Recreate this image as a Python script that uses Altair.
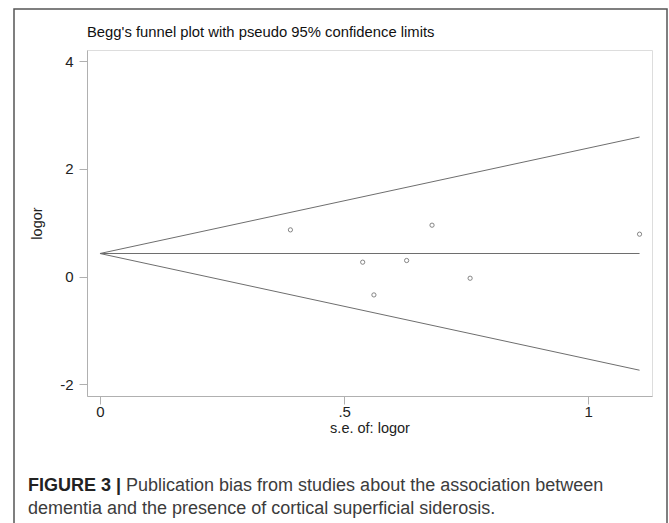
import altair as alt
import pandas as pd

# ---- data ----
se_vals = [0.390, 0.680, 1.105, 0.538, 0.628, 0.758, 0.561]
logor_vals = [0.866, 0.953, 0.786, 0.266, 0.297, -0.032, -0.342]

pooled_logor = 0.427
funnel_se = [0.0, 1.105]
funnel_upper = [0.427, 2.59]
funnel_mid = [0.427, 0.427]
funnel_lower = [0.427, -1.74]

x_ticks = [0, 0.5, 1]
y_ticks = [-2, 0, 2, 4]

title_text = "Begg's funnel plot with pseudo 95% confidence limits"
caption_bold = "FIGURE 3 |"
caption_line1 = "Publication bias from studies about the association between"
caption_line2 = "dementia and the presence of cortical superficial siderosis."

FONT = "Liberation Sans"
W, H = 565, 346
PAD_L, PAD_T = 87, 50

pts = pd.DataFrame({"se": se_vals, "logor": logor_vals})
lines = pd.DataFrame({
    "se": funnel_se * 3,
    "logor": funnel_upper + funnel_mid + funnel_lower,
    "limit": ["upper"] * 2 + ["pooled"] * 2 + ["lower"] * 2,
})

xscale = alt.Scale(domain=[-0.0266, 1.1305], nice=False, zero=False)
yscale = alt.Scale(domain=[-2.219, 4.206], nice=False, zero=False)

xaxis = alt.Axis(
    values=x_ticks, title="s.e. of: logor", grid=False,
    labelExpr="datum.value == 0.5 ? '.5' : '' + datum.value",
    domainColor="#b0b0b0", tickColor="#b0b0b0", tickSize=8,
    labelFont=FONT, labelFontSize=15, labelColor="#222222", labelPadding=0,
    titleFont=FONT, titleFontSize=14.5, titleFontWeight="normal", titleColor="#222222",
    titleY=36, titleBaseline="alphabetic",
)
yaxis = alt.Axis(
    values=y_ticks, title="logor", grid=False,
    labelExpr="replace(datum.label, '\u2212', '-')",
    domainColor="#b0b0b0", tickColor="#b0b0b0", tickSize=8,
    labelFont=FONT, labelFontSize=15, labelColor="#222222", labelPadding=6,
    titleFont=FONT, titleFontSize=14.5, titleFontWeight="normal", titleColor="#222222",
    titleX=-50, titleY=H / 2, titleBaseline="middle", titleAlign="center", titleAngle=-90,
)

funnel = alt.Chart(lines).mark_line(color="#6e6e6e", strokeWidth=1).encode(
    x=alt.X("se:Q", scale=xscale, axis=xaxis),
    y=alt.Y("logor:Q", scale=yscale, axis=yaxis),
    detail="limit:N",
)

points = alt.Chart(pts).mark_point(
    shape="circle", filled=False, size=18, color="#777777", strokeWidth=0.9, opacity=1
).encode(
    x=alt.X("se:Q", scale=xscale),
    y=alt.Y("logor:Q", scale=yscale),
)

one = pd.DataFrame({"a": [0]})

frame = alt.Chart(one).mark_rect(
    fill=None, stroke="#555555", strokeWidth=1.5, clip=False
).encode(
    x=alt.value(14 - PAD_L), x2=alt.value(667 - PAD_L),
    y=alt.value(9 - PAD_T), y2=alt.value(540 - PAD_T),
)

title = alt.Chart(one).mark_text(
    text=title_text, font=FONT, fontSize=14.8, color="#111111",
    align="left", baseline="alphabetic",
).encode(x=alt.value(0), y=alt.value(37 - PAD_T))

cap_b = alt.Chart(one).mark_text(
    text=caption_bold, font=FONT, fontSize=18, fontWeight="bold", color="#222222",
    align="left", baseline="alphabetic",
).encode(x=alt.value(28 - PAD_L), y=alt.value(491 - PAD_T))

cap_1 = alt.Chart(one).mark_text(
    text=caption_line1, font=FONT, fontSize=18, color="#3c3c3c",
    align="left", baseline="alphabetic",
).encode(x=alt.value(28 + 98 - PAD_L), y=alt.value(491 - PAD_T))

cap_2 = alt.Chart(one).mark_text(
    text=caption_line2, font=FONT, fontSize=18, color="#3c3c3c",
    align="left", baseline="alphabetic",
).encode(x=alt.value(28 - PAD_L), y=alt.value(514 - PAD_T))

chart = alt.layer(frame, funnel, points, title, cap_b, cap_1, cap_2).properties(
    width=W, height=H,
    padding={"left": PAD_L, "top": PAD_T, "right": 669 - PAD_L - W, "bottom": 523 - PAD_T - H},
    autosize=alt.AutoSizeParams(type="none"),
).configure_view(stroke=None).configure(background="white")

chart.save("out.html", embed_options={"renderer": "svg", "actions": False})
